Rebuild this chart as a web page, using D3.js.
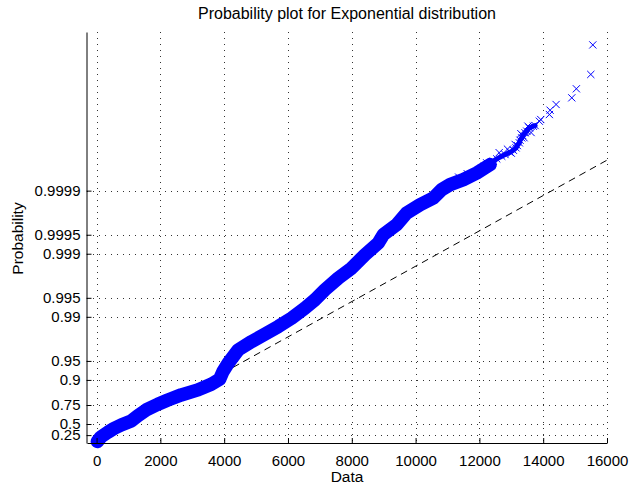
<!DOCTYPE html>
<html>
<head>
<meta charset="utf-8">
<script src="https://cdn.jsdelivr.net/npm/d3@7"></script>
<style>
  body { margin: 0; background: #fff; }
  svg { display: block; font-family: "Liberation Sans", Arial, Helvetica, sans-serif; }
  .axis text { font-size: 15px; fill: #000; }
</style>
</head>
<body>
<div class="container"></div>
<script>
const sampleValues = [25, 135, 354, 543, 771, 1085, 1295, 1555, 1922, 2236, 2653, 3177, 3594, 3857, 3961, 4127,
    4441, 4861, 5278, 5695, 6115, 6532, 6846, 7159, 7577, 7997, 8414, 8831, 8988, 9408, 9722, 10139, 10556,
    10819, 11080, 11497, 11917, 12334]
const sampleProbs = [0.0533, 0.197, 0.324, 0.411, 0.482, 0.552, 0.631, 0.701, 0.757, 0.792, 0.827, 0.856, 0.883,
    0.9025, 0.9262, 0.9457, 0.96659, 0.97533, 0.98118, 0.98574, 0.98952, 0.99272, 0.99463, 0.996273, 0.997569,
    0.998314, 0.998963, 0.999324, 0.999501, 0.999654, 0.9997741, 0.9998332, 0.9998695, 0.9999036, 0.9999197,
    0.9999331, 0.9999476, 0.9999613]

// upper tail, where the single markers can be told apart
const tailValues = [12230, 12438, 12544, 12701, 12804, 12961, 13065, 13149, 13190, 13253, 13275, 13328, 13359,
    13431, 13485, 13566, 13692, 13745, 13880, 13924, 14194, 14216, 14404, 14896, 15040, 15492, 15555]
const tailProbs = [0.9999637, 0.9999657, 0.9999686, 0.9999715, 0.9999732, 0.9999753, 0.9999771, 0.999979,
    0.9999807, 0.9999825, 0.9999841, 0.9999854, 0.9999866, 0.9999879, 0.9999886, 0.9999899, 0.99999047,
    0.99999071, 0.99999206, 0.99999254, 0.99999378, 0.99999469, 0.99999569, 0.99999662, 0.99999757,
    0.99999856, 0.99999951]

// loose markers around the edge of the upper cluster
const scatterValues = [11350, 11620, 11800, 12050, 12150, 12400, 12620, 12880, 13000, 13120, 13300, 13400, 13520, 13620]
const scatterProbs = [0.999939, 0.999946, 0.9999455, 0.999955, 0.9999585, 0.9999635, 0.999975, 0.999978,
    0.9999745, 0.9999815, 0.9999875, 0.9999855, 0.9999905, 0.999988]

// fitted exponential mean for the reference line
const refMean = 1550

const xTicks = [0, 2000, 4000, 6000, 8000, 10000, 12000, 14000, 16000]
const probTicks = [0.25, 0.5, 0.75, 0.9, 0.95, 0.99, 0.995, 0.999, 0.9995, 0.9999]

const width = 631
const height = 487
const margin = { top: 32, right: 24, bottom: 44, left: 87 }

let svg = d3.select(".container")
    .append("svg")
    .attr("width", width)
    .attr("height", height)

let x = d3.scaleLinear()
    .domain([-300, 16000])
    .range([margin.left, width - margin.right])

// exponential probability paper: y is -log(1-p)
let yScore = d3.scaleLinear()
    .domain([0, 15])
    .range([height - margin.bottom, margin.top])
const score = p => -Math.log(1 - p)
const y = p => yScore(score(p))

svg.append("defs").append("clipPath")
    .attr("id", "plot-clip")
    .append("rect")
    .attr("x", margin.left)
    .attr("y", margin.top)
    .attr("width", width - margin.right - margin.left)
    .attr("height", height - margin.bottom - margin.top)

// dotted grid
let grid = svg.append("g")
    .attr("stroke", "#333")
    .attr("stroke-width", 1)
    .attr("stroke-dasharray", "1,5")

grid.selectAll(".vgrid")
    .data(xTicks)
    .enter()
    .append("line")
    .attr("x1", d => Math.round(x(d)) + 0.5)
    .attr("x2", d => Math.round(x(d)) + 0.5)
    .attr("y1", margin.top)
    .attr("y2", height - margin.bottom)

grid.selectAll(".hgrid")
    .data(probTicks)
    .enter()
    .append("line")
    .attr("y1", d => Math.round(y(d)) + 0.5)
    .attr("y2", d => Math.round(y(d)) + 0.5)
    .attr("x1", margin.left)
    .attr("x2", width - margin.right)

// reference line
svg.append("line")
    .attr("clip-path", "url(#plot-clip)")
    .attr("x1", x(0))
    .attr("y1", yScore(0))
    .attr("x2", x(16000))
    .attr("y2", yScore(16000 / refMean))
    .attr("stroke", "#000")
    .attr("stroke-width", 1)
    .attr("stroke-dasharray", "7,5")

let dense = sampleValues.map((d, i) => [d, sampleProbs[i]])
let tail = tailValues.map((d, i) => [d, tailProbs[i]])
let scatter = scatterValues.map((d, i) => [d, scatterProbs[i]])

let line = d3.line().x(d => x(d[0])).y(d => y(d[1]))

// dense run of overlapping markers
svg.append("path")
    .datum(dense)
    .attr("fill", "none")
    .attr("stroke", "#0000ff")
    .attr("stroke-width", 13.5)
    .attr("stroke-linecap", "round")
    .attr("stroke-linejoin", "round")
    .attr("d", line)

// thinner run where the tail starts to break up
svg.append("path")
    .datum(tail.slice(0, 18))
    .attr("fill", "none")
    .attr("stroke", "#0000ff")
    .attr("stroke-width", 5)
    .attr("stroke-linecap", "round")
    .attr("stroke-linejoin", "round")
    .attr("d", line)

const cross = 3.6
svg.append("g")
    .selectAll("path")
    .data(dense.concat(tail, scatter))
    .enter()
    .append("path")
    .attr("fill", "none")
    .attr("stroke", "#0000ff")
    .attr("stroke-width", 1)
    .attr("d", d => {
        let cx = x(d[0]), cy = y(d[1])
        return `M${cx - cross},${cy - cross}L${cx + cross},${cy + cross}M${cx - cross},${cy + cross}L${cx + cross},${cy - cross}`
    })

// axes, ticks point inwards
let xAxis = svg.append("g")
    .attr("class", "axis")
    .attr("transform", `translate(0, ${height - margin.bottom})`)
    .call(d3.axisBottom(x).tickValues(xTicks).tickFormat(d3.format("d"))
        .tickSizeInner(-5).tickSizeOuter(0).tickPadding(12))
xAxis.select(".domain").attr("stroke", "#000")

let yAxis = svg.append("g")
    .attr("class", "axis")
    .attr("transform", `translate(${margin.left - 0.5}, 0)`)
    .call(d3.axisLeft(yScore).tickValues(probTicks.map(score)).tickFormat((d, i) => String(probTicks[i]))
        .tickSizeInner(-5).tickSizeOuter(0).tickPadding(6))
yAxis.select(".domain").attr("stroke", "#000")

svg.append("text")
    .attr("x", (margin.left + width - margin.right) / 2)
    .attr("y", 19)
    .attr("text-anchor", "middle")
    .style("font-size", "16px")
    .text("Probability plot for Exponential distribution")

svg.append("text")
    .attr("x", (margin.left + width - margin.right) / 2)
    .attr("y", 482)
    .attr("text-anchor", "middle")
    .style("font-size", "15.5px")
    .text("Data")

svg.append("text")
    .attr("transform", `translate(23, ${(margin.top + height - margin.bottom) / 2 + 1}) rotate(-90)`)
    .attr("text-anchor", "middle")
    .style("font-size", "15.5px")
    .text("Probability")
</script>
</body>
</html>
